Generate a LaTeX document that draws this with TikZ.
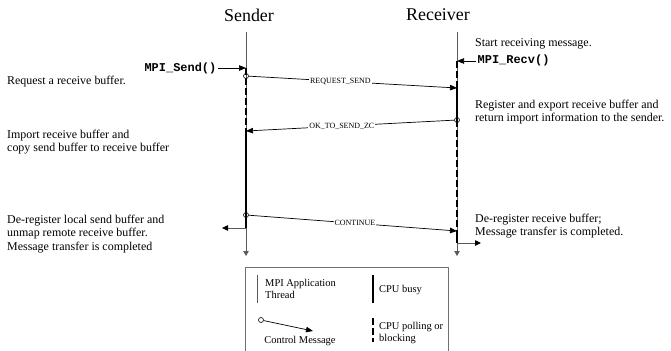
\documentclass[tikz,border=0pt]{standalone}
\usepackage{fontspec}
\setmainfont{Liberation Serif}
\setmonofont{Liberation Mono}
\usepackage{tikz}
\usetikzlibrary{arrows.meta,positioning,calc}
\definecolor{lifegray}{HTML}{5A5A5A}
\definecolor{boxgray}{HTML}{707070}
\tikzset{
  lifeline/.style={draw=lifegray, line width=0.8bp},
  busy/.style={draw=black, line width=2.7bp},
  polling/.style={busy, dash pattern=on 7bp off 3bp},
  msg/.style={draw=black, line width=0.7bp, -{Triangle[length=7bp,width=5.5bp]}},
  outarrow/.style={lifeline, -{Triangle[length=6bp,width=5.5bp,color=black]}},
  startdot/.style={draw=black, line width=0.6bp, circle, inner sep=0pt, minimum size=5bp},
  msglabel/.style={fill=white, inner sep=1bp, font=\fontsize{8}{9}\selectfont},
  note/.style={align=left, anchor=west, inner sep=0pt, font=\fontsize{12}{13.5}\selectfont},
  legendtext/.style={align=left, anchor=west, inner sep=0pt, font=\fontsize{10.5}{11.5}\selectfont},
  callname/.style={inner sep=1.5bp, font=\ttfamily\bfseries\fontsize{12}{14}\selectfont},
  title/.style={font=\fontsize{18}{20}\selectfont},
}

\begin{document}
\begin{tikzpicture}[x=1bp, y=-1bp]
  \useasboundingbox (0,0) rectangle (671,350);
  \clip (0,0) rectangle (671,350);

  % titles
  \node[title] (sender) at (249,15) {Sender};
  \node[title] (receiver) at (438,15) {Receiver};

  % points on the two lifelines
  \coordinate (s-top) at (246,32);
  \coordinate (s-call) at (246,68);
  \coordinate (s-ok) at (246,131);
  \coordinate (s-done) at (246,228);
  \coordinate (s-end) at (246,256);
  \coordinate (s-out) at (222,228);
  \coordinate (r-top) at (457,32);
  \coordinate (r-call) at (457,61);
  \coordinate (r-req) at (457,88);
  \coordinate (r-cont) at (457,231);
  \coordinate (r-done) at (457,243);
  \coordinate (r-end) at (457,256);
  \coordinate (r-out) at (481,243);

  % thread lines
  \draw[lifeline, -{Triangle[length=5bp,width=5.5bp]}] (s-top) -- (s-end);
  \draw[lifeline, -{Triangle[length=5bp,width=5.5bp]}] (r-top) -- (r-end);

  % cpu state
  \draw[polling] (s-call) -- (s-ok);
  \draw[busy] (s-ok) -- (s-done);
  \draw[polling] (r-call) -- (r-req);
  \draw[busy] (r-req) -- (457,120);
  \draw[polling] (457,120) -- (r-cont);
  \draw[busy] (r-cont) -- (r-done);

  \draw[outarrow] (s-done) -- (s-out);
  \draw[outarrow] (r-done) -- (r-out);

  % control messages
  \node[startdot] (s-req) at (246,76) {};
  \node[startdot] (r-ok) at (457,120) {};
  \node[startdot] (s-cont) at (246,215) {};
  \draw[msg] (s-req) -- node[msglabel, pos=0.44] {REQUEST\_SEND} (r-req);
  \draw[msg] (r-ok) -- node[msglabel, pos=0.54] {OK\_TO\_SEND\_ZC} (s-ok);
  \draw[msg] (s-cont) -- node[msglabel, pos=0.51] {CONTINUE} (r-cont);

  % calls
  \node[callname, anchor=east] (sendcall) at (218,68) {MPI\_Send()};
  \draw[msg] (sendcall) -- (s-call);
  \node[note] (recvstart) at (475,44) {Start receiving message.};
  \node[callname, anchor=west] (recvcall) at (476,60) {MPI\_Recv()};
  \draw[msg] (recvcall.west |- r-call) -- (r-call);

  % notes
  \node[note] (n-request) at (7,82) {Request a receive buffer.};
  \node[note] (n-import) at (7,142) {Import receive buffer and\\copy send buffer to receive buffer};
  \node[note] (n-dereg) at (7,234) {De-register local send buffer and\\unmap remote receive buffer.\\Message transfer is completed};
  \node[note] (n-register) at (475,112) {Register and export receive buffer and\\return import information to the sender.};
  \node[note] (n-recvdone) at (475,226) {De-register receive buffer;\\Message transfer is completed.};

  % legend
  \draw[draw=boxgray, line width=0.9bp] (245,360) |- (448,267) -- (448,360);
  \draw[lifeline] (257,275) -- (257,303);
  \node[legendtext] (lg-thread) at (265,289) {MPI Application\\Thread};
  \draw[busy] (373,275) -- (373,303);
  \node[legendtext] (lg-busy) at (379,290) {CPU busy};
  \node[startdot] (lg-dot) at (261,320) {};
  \coordinate (lg-tip) at (313,331);
  \draw[msg] (lg-dot) -- (lg-tip);
  \node[legendtext, anchor=center] (lg-msg) at (300,341) {Control Message};
  \draw[polling] (373,318) -- (373,342);
  \node[legendtext] (lg-poll) at (379,333) {CPU polling or\\blocking};
\end{tikzpicture}
\end{document}
